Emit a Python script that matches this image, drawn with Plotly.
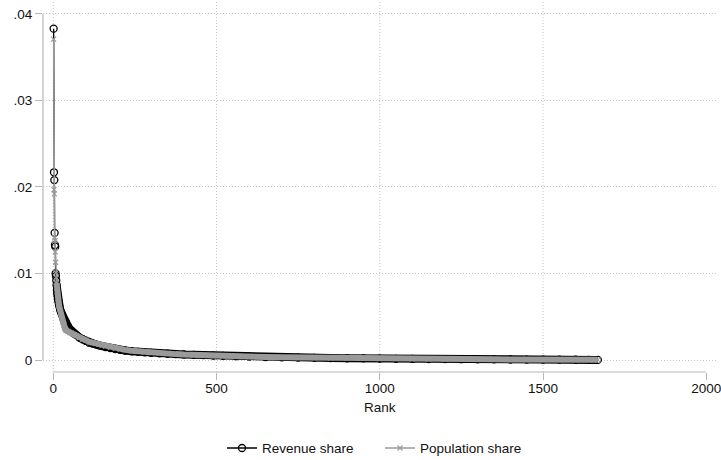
import plotly.graph_objects as go

# ---- data ----
ranks = [1, 2, 3, 4, 5, 6, 7, 8, 9, 10,
         11, 12, 13, 14, 15, 16, 17, 18, 20, 22,
         24, 26, 28, 30, 32, 34, 36, 38, 40, 45,
         50, 55, 60, 65, 70, 80, 90, 100, 110, 120,
         130, 140, 150, 160, 175, 190, 205, 220, 240, 260,
         280, 300, 325, 350, 375, 400, 430, 460, 490, 520,
         560, 600, 650, 700, 750, 800, 850, 900, 950, 1000,
         1050, 1100, 1150, 1200, 1250, 1300, 1350, 1400, 1450, 1500,
         1550, 1600, 1640, 1668]

revenue_share = [
    0.0383, 0.0217, 0.0208, 0.0147, 0.0133, 0.0131, 0.0100, 0.0097, 0.0092, 0.0087,
    0.0081, 0.0077, 0.0074, 0.0071, 0.0069, 0.0067, 0.0065, 0.0063, 0.0060, 0.0057,
    0.0055, 0.0053, 0.0051, 0.0049, 0.0047, 0.0046, 0.0045, 0.0044, 0.0042, 0.0039,
    0.0036, 0.0034, 0.0032, 0.0030, 0.0029, 0.0026, 0.0024, 0.0022, 0.0020, 0.0019,
    0.0018, 0.0017, 0.0016, 0.00150, 0.00138, 0.00127, 0.00118, 0.00110, 0.00101, 0.00094,
    0.00088, 0.00083, 0.00077, 0.00072, 0.00068, 0.00064, 0.00060, 0.00056, 0.00050, 0.00047,
    0.00044, 0.00040, 0.00034, 0.00030, 0.00027, 0.00024, 0.00022, 0.00020, 0.00018, 0.00016,
    0.00014, 0.00012, 0.00011, 0.00010, 0.00009, 0.00008, 0.00007, 0.00006, 0.00005, 0.00004,
    0.00004, 0.00003, 0.00002, 0.00001]

population_share = [
    0.0371, 0.0197, 0.0192, 0.0141, 0.0138, 0.0125, 0.0113, 0.0101, 0.0095, 0.0089,
    0.0083, 0.0079, 0.0075, 0.0071, 0.0068, 0.0066, 0.0064, 0.0062, 0.0059, 0.0055,
    0.0052, 0.0048, 0.0045, 0.0043, 0.0040, 0.0038, 0.0036, 0.0035, 0.0034, 0.0033,
    0.0032, 0.0031, 0.0030, 0.0029, 0.0028, 0.0026, 0.0024, 0.0023, 0.0021, 0.0020,
    0.0019, 0.0018, 0.0017, 0.00160, 0.00147, 0.00136, 0.00126, 0.00117, 0.00107, 0.00099,
    0.00092, 0.00086, 0.00079, 0.00073, 0.00068, 0.00063, 0.00058, 0.00053, 0.00048, 0.00045,
    0.00042, 0.00039, 0.00035, 0.00031, 0.00028, 0.00026, 0.00023, 0.00021, 0.00019, 0.00017,
    0.00015, 0.00013, 0.00012, 0.00011, 0.00010, 0.00009, 0.00008, 0.00007, 0.00006, 0.00005,
    0.00004, 0.00003, 0.00003, 0.00002]

x_tick_vals = [0, 500, 1000, 1500, 2000]
x_tick_text = ["0", "500", "1000", "1500", "2000"]
y_tick_vals = [0, 0.01, 0.02, 0.03, 0.04]
y_tick_text = ["0", ".01", ".02", ".03", ".04"]

assert len(ranks) == len(revenue_share) == len(population_share)

FONT = "Liberation Sans, Arial, sans-serif"
BLACK = "#000000"
GRAY = "#9a9a9a"
AXIS = "#b8b8b8"
GRID = "#c4c4c4"
DOT = "1px,2px"

band_start = 9  # dense part of the curve where markers merge into a band

fig = go.Figure()

# revenue share: dense band of overlapping markers
fig.add_trace(go.Scatter(
    x=ranks[band_start:], y=revenue_share[band_start:], mode="lines",
    line=dict(color=BLACK, width=8), showlegend=False, hoverinfo="skip"))
fig.add_trace(go.Scatter(
    x=ranks, y=revenue_share, mode="lines+markers", name="Revenue share",
    line=dict(color=BLACK, width=1.3),
    marker=dict(symbol="circle-open", size=7, color=BLACK, line=dict(width=1.3))))

# population share
fig.add_trace(go.Scatter(
    x=ranks[band_start:], y=population_share[band_start:], mode="lines",
    line=dict(color=GRAY, width=6), showlegend=False, hoverinfo="skip"))
fig.add_trace(go.Scatter(
    x=ranks, y=population_share, mode="lines+markers", name="Population share",
    line=dict(color=GRAY, width=1.5),
    marker=dict(symbol="x-thin", size=5, color=GRAY, line=dict(width=1.2, color=GRAY))))

shapes = []
# vertical dotted gridlines
for v in x_tick_vals[:-1]:
    shapes.append(dict(type="line", xref="x", yref="paper", x0=v, x1=v, y0=0, y1=1,
                       line=dict(color=GRID, width=1, dash=DOT), layer="below"))
# offset axis lines (Stata style)
shapes.append(dict(type="line", xref="x", yref="paper", x0=x_tick_vals[0], x1=x_tick_vals[-1],
                   y0=0, y1=0, line=dict(color=AXIS, width=1.2)))
shapes.append(dict(type="line", xref="paper", yref="y", x0=0, x1=0,
                   y0=y_tick_vals[0], y1=y_tick_vals[-1], line=dict(color=AXIS, width=1.2)))

fig.update_layout(
    width=721, height=460,
    margin=dict(l=43, r=4, t=1, b=88, autoexpand=False),
    paper_bgcolor="white", plot_bgcolor="white",
    font=dict(family=FONT, size=13.5, color="#111111"),
    shapes=shapes,
    showlegend=True,
    legend=dict(orientation="h", x=0.5, xanchor="center", y=-0.2054, yanchor="middle",
                font=dict(size=13.5, color="#111111"), itemwidth=30,
                entrywidth=113, entrywidthmode="pixels",
                bgcolor="rgba(0,0,0,0)"),
    annotations=[dict(text="Rank", xref="paper", yref="paper", x=0.5, y=-0.097,
                      xanchor="center", yanchor="middle", showarrow=False,
                      font=dict(size=13.5, color="#111111"))],
    xaxis=dict(range=[-31.6, 2033], tickvals=x_tick_vals, ticktext=x_tick_text,
               showgrid=False, zeroline=False, showline=False, automargin=False,
               ticklabeloverflow="allow", ticklabelstandoff=-3,
               ticks="outside", ticklen=7, tickcolor=AXIS, tickwidth=1.2),
    yaxis=dict(range=[-0.001387, 0.0415], tickvals=y_tick_vals, ticktext=y_tick_text,
               showgrid=True, gridcolor=GRID, gridwidth=1, griddash=DOT,
               zeroline=False, showline=False, automargin=False,
               ticks="outside", ticklen=7, tickcolor=AXIS, tickwidth=1.2),
)

fig.write_html("out.html", config={"displayModeBar": False},
               post_script="document.body.style.margin='0';document.body.style.overflow='hidden';")
